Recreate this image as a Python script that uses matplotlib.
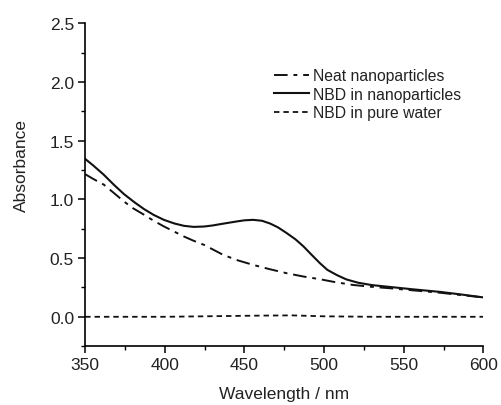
import numpy as np
import matplotlib
matplotlib.use("Agg")
import matplotlib.pyplot as plt
from matplotlib.ticker import MultipleLocator

plt.rcParams['font.family'] = ['Liberation Sans', 'DejaVu Sans']

# Data
wl_nbd_np = [350, 355, 361.7, 368, 374.3, 381, 386.9, 393, 399.4, 406, 412, 418, 424.6, 430, 436,
             445, 450, 455.5, 461, 466, 471, 476.5, 482, 487, 492, 497.4, 502, 507.9, 514, 521.4,
             530, 541.4, 555, 572.8, 586, 600]
abs_nbd_np = [1.345, 1.29, 1.21, 1.125, 1.046, 0.975, 0.918, 0.868, 0.826, 0.795, 0.775, 0.766, 0.769, 0.778, 0.792,
              0.812, 0.822, 0.826, 0.818, 0.795, 0.762, 0.713, 0.66, 0.60, 0.53, 0.456, 0.40, 0.356, 0.318, 0.29,
              0.27, 0.254, 0.235, 0.212, 0.19, 0.165]

wl_neat = [350, 355, 361.7, 368, 374.3, 380, 386.9, 393, 399.4, 406, 412, 418, 424.6, 436.7, 446,
           455.5, 466, 476.5, 487, 497.4, 507, 518.3, 530, 541.4, 556, 572.8, 586, 600]
abs_neat = [1.215, 1.175, 1.126, 1.055, 0.983, 0.925, 0.87, 0.818, 0.77, 0.725, 0.684, 0.648, 0.613, 0.527, 0.48,
            0.442, 0.405, 0.371, 0.343, 0.32, 0.295, 0.271, 0.255, 0.243, 0.225, 0.205, 0.185, 0.165]

wl_water = [350, 400, 430, 460, 480, 500, 530, 600]
abs_water = [0.0, 0.0, 0.005, 0.01, 0.012, 0.004, 0.0, 0.0]

x_ticks = [350, 400, 450, 500, 550, 600]
y_ticks = [0.0, 0.5, 1.0, 1.5, 2.0, 2.5]

fig = plt.figure(figsize=(5.01, 4.06), dpi=100)
ax = fig.add_axes([0.170, 0.145, 0.795, 0.795])

ax.plot(wl_neat, abs_neat, color='#111111', lw=1.4, linestyle=(0, (7, 3, 2, 3)), label='Neat nanoparticles')
ax.plot(wl_nbd_np, abs_nbd_np, color='#111111', lw=1.5, linestyle='-', label='NBD in nanoparticles')
ax.plot(wl_water, abs_water, color='#111111', lw=1.3, linestyle=(0, (3, 2.2)), label='NBD in pure water')

ax.set_xlim(350, 600)
ax.set_ylim(-0.25, 2.5)
ax.set_xticks(x_ticks)
ax.set_yticks(y_ticks)
ax.set_yticklabels([f"{v:.1f}" for v in y_ticks])
ax.xaxis.set_minor_locator(MultipleLocator(25))
ax.yaxis.set_minor_locator(MultipleLocator(0.25))

for s in ['top', 'right']:
    ax.spines[s].set_visible(False)
for s in ['left', 'bottom']:
    ax.spines[s].set_linewidth(1.2)

ax.tick_params(which='major', direction='out', length=5, width=1.1, labelsize=12.5, pad=3,
               labelcolor='#222222')
ax.tick_params(which='minor', direction='out', length=3, width=1.0)

ax.set_xlabel('Wavelength / nm', fontsize=12.5, labelpad=10, color='#222222')
ax.set_ylabel('Absorbance', fontsize=12.5, color='#222222')
ax.yaxis.set_label_coords(-0.14, 0.563)

leg = ax.legend(loc='upper left', bbox_to_anchor=(0.455, 0.885), frameon=False, fontsize=11.3,
                handlelength=2.2, handletextpad=0.3, labelspacing=0.22, borderpad=0)
for t in leg.get_texts():
    t.set_color('#222222')

fig.savefig('out.png', dpi=100)
